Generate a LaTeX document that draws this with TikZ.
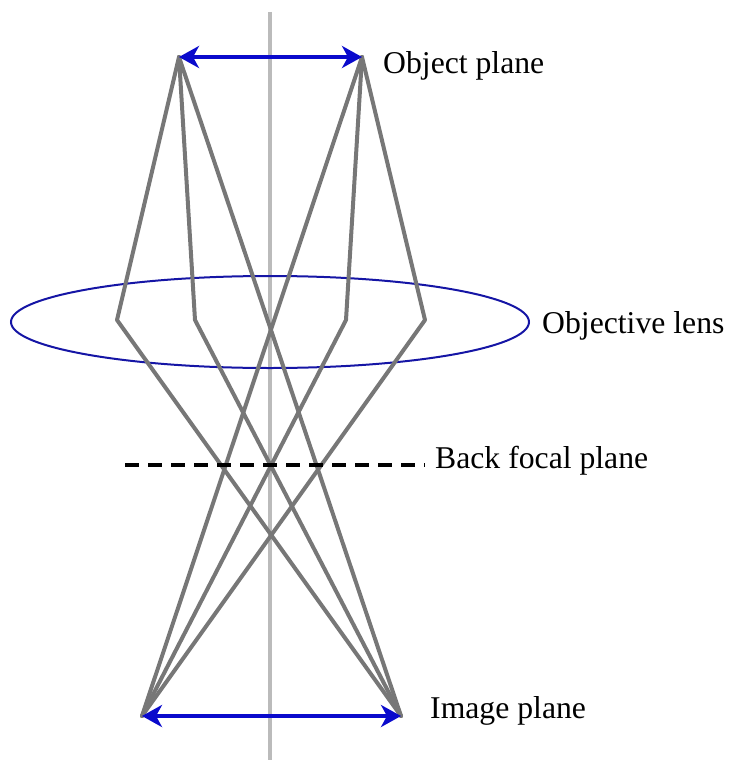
\documentclass[tikz,border=0pt]{standalone}
\usepackage{fontspec}
\setmainfont{Liberation Serif}
\usetikzlibrary{arrows.meta}
\definecolor{raygray}{HTML}{777777}
\definecolor{axisgray}{HTML}{BBBBBB}
\definecolor{arrowblue}{HTML}{0A0ACC}
\definecolor{lensblue}{HTML}{1515A5}
\tikzset{
  ray/.style={draw=raygray, line width=4pt, line join=round, line cap=round},
  axisline/.style={draw=axisgray, line width=4pt},
  planearrow/.style={draw=arrowblue, line width=4pt, {Stealth[length=20pt,width=22pt,inset=6pt]}-{Stealth[length=20pt,width=22pt,inset=6pt]}},
  lens/.style={draw=lensblue, line width=2pt},
  focal/.style={draw=black, line width=4pt, dash pattern=on 14pt off 9pt},
  lbl/.style={inner sep=0pt, anchor=base west, font=\fontsize{31.7}{36}\selectfont}
}
\begin{document}
\begin{tikzpicture}[x=1pt,y=-1pt]
\useasboundingbox (0,0) rectangle (728,760);
% axis
\coordinate (axtop) at (270,12);
\coordinate (axbot) at (270,760);
\draw[axisline] (axtop) -- (axbot);
% key points
\coordinate (OL) at (179,57);
\coordinate (OR) at (362,57);
\coordinate (IL) at (142,716);
\coordinate (IR) at (401,716);
\coordinate (L1) at (117,320);
\coordinate (L2) at (195,320);
\coordinate (L3) at (346,320);
\coordinate (L4) at (425,320);
% lens
\coordinate (lensc) at (270,322);
\draw[lens] (lensc) ellipse [x radius=259, y radius=46];
% rays
\draw[ray] (OL) -- (L1) -- (IR);
\draw[ray] (OL) -- (L2) -- (IR);
\draw[ray] (OL) -- (IR);
\draw[ray] (OR) -- (L4) -- (IL);
\draw[ray] (OR) -- (L3) -- (IL);
\draw[ray] (OR) -- (IL);
% focal plane
\coordinate (F1) at (125,465);
\coordinate (F2) at (425,465);
\draw[focal] (F1) -- (F2);
% plane arrows
\draw[planearrow] (OL) -- (OR);
\draw[planearrow] (IL) -- (IR);
% labels
\node[lbl] (tobj) at (383,74) {Object plane};
\node[lbl] (tlens) at (542,333) {Objective lens};
\node[lbl] (tbfp) at (435,468) {Back focal plane};
\node[lbl] (timg) at (430,718) {Image plane};
\end{tikzpicture}
\end{document}
